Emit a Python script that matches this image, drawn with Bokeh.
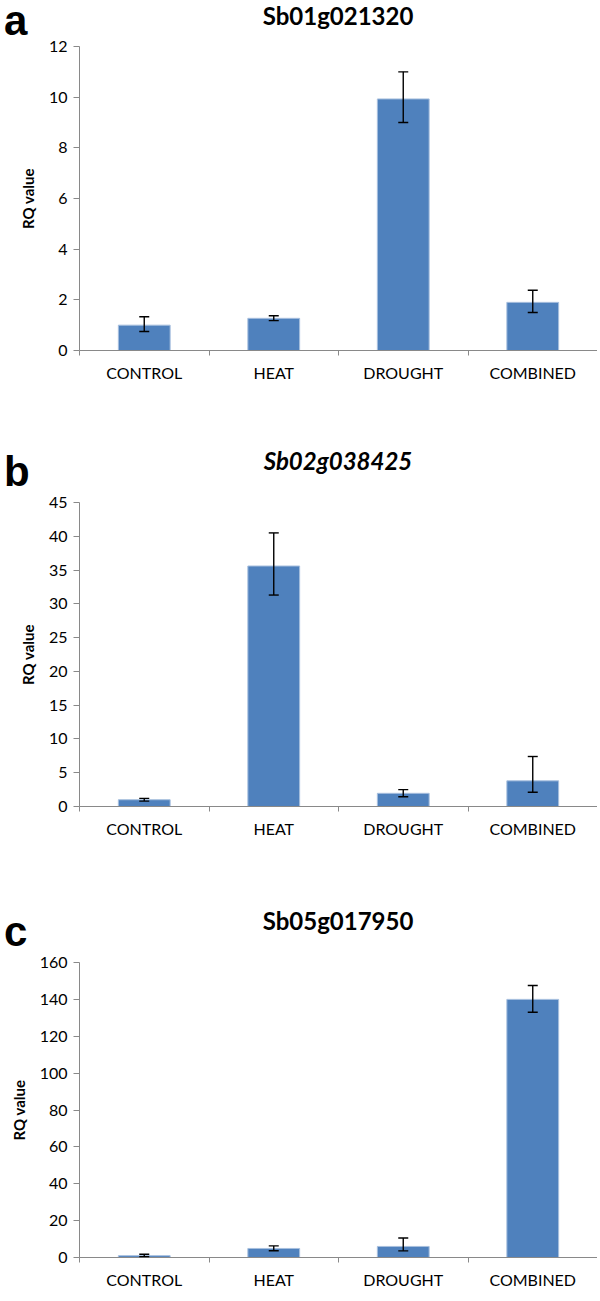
from bokeh.plotting import figure
from bokeh.models import ColumnDataSource, Whisker, TeeHead, FixedTicker, Range1d, Div
from bokeh.layouts import column
from bokeh.embed import file_html
from bokeh.resources import INLINE

categories = ["CONTROL", "HEAT", "DROUGHT", "COMBINED"]

a_title = "Sb01g021320"
a_values = [1.0, 1.27, 9.93, 1.9]
a_lower = [0.75, 1.18, 9.0, 1.5]
a_upper = [1.33, 1.37, 11.0, 2.38]
a_ticks = [0, 2, 4, 6, 8, 10, 12]

b_title = "Sb02g038425"
b_values = [1.0, 35.6, 1.95, 3.8]
b_lower = [0.8, 31.3, 1.45, 2.1]
b_upper = [1.2, 40.5, 2.5, 7.4]
b_ticks = [0, 5, 10, 15, 20, 25, 30, 35, 40, 45]

c_title = "Sb05g017950"
c_values = [1.0, 4.9, 6.0, 140.0]
c_lower = [0.4, 3.7, 3.6, 133.0]
c_upper = [1.8, 6.3, 10.6, 147.5]
c_ticks = [0, 20, 40, 60, 80, 100, 120, 140, 160]

FONT = "Lato"
AXIS_COLOR = "#898989"
BAR_COLOR = "#4F81BD"
W = 597
LEFT = 79


def header(letter, title, italic, h, title_top, letter_top):
    style_t = ("position:absolute;left:%dpx;width:%dpx;top:%dpx;text-align:center;"
               "font-family:Lato;font-weight:bold;font-size:24px;line-height:16px;"
               "color:black;white-space:nowrap;%s") % (LEFT, W - LEFT, title_top,
                                                       "font-style:italic;" if italic else "")
    style_l = ("position:absolute;left:4px;top:%dpx;font-family:'Liberation Sans';"
               "font-weight:bold;font-size:42px;line-height:28px;color:black;") % letter_top
    html = ('<div style="position:relative;width:%dpx;height:%dpx;margin:0;padding:0;">'
            '<span style="%s">%s</span><span style="%s">%s</span></div>') % (
        W, h, style_l, letter, style_t, title)
    return Div(text=html, width=W, height=h, margin=0)


def panel(values, lower, upper, ticks, height, top, bottom):
    n = len(categories)
    xs = [i + 0.5 for i in range(n)]
    src = ColumnDataSource(dict(x=xs, top=values, lower=lower, upper=upper))
    p = figure(width=W, height=height, title=None, output_backend="svg",
               toolbar_location=None, x_range=Range1d(0, n),
               y_range=Range1d(ticks[0], ticks[-1]),
               min_border_left=LEFT, min_border_right=0,
               min_border_top=top, min_border_bottom=bottom, margin=0)
    p.outline_line_color = None
    p.grid.visible = False
    p.background_fill_color = "white"
    p.border_fill_color = "white"

    p.vbar(x="x", top="top", width=0.4, source=src, fill_color=BAR_COLOR,
           line_color="#A7BFDE", line_width=1)
    w = Whisker(base="x", upper="upper", lower="lower", source=src, level="overlay",
                line_color="black", line_width=1.4,
                upper_head=TeeHead(size=10, line_color="black", line_width=1.4),
                lower_head=TeeHead(size=10, line_color="black", line_width=1.4))
    p.add_layout(w)

    xa = p.xaxis[0]
    xa.ticker = FixedTicker(ticks=xs, minor_ticks=list(range(n + 1)))
    xa.major_label_overrides = {x: c for x, c in zip(xs, categories)}
    xa.major_tick_line_color = None
    xa.minor_tick_in = 0
    xa.minor_tick_out = 5
    xa.minor_tick_line_color = AXIS_COLOR
    xa.axis_line_color = AXIS_COLOR
    xa.major_label_text_font = FONT
    xa.major_label_text_font_size = "16px"
    xa.major_label_text_color = "black"
    xa.major_label_standoff = 6

    ya = p.yaxis[0]
    ya.ticker = FixedTicker(ticks=ticks, minor_ticks=[])
    ya.major_tick_in = 0
    ya.major_tick_out = 6
    ya.major_tick_line_color = AXIS_COLOR
    ya.axis_line_color = AXIS_COLOR
    ya.minor_tick_line_color = None
    ya.major_label_text_font = FONT
    ya.major_label_text_font_size = "16px"
    ya.major_label_text_color = "black"
    ya.major_label_standoff = 6
    ya.axis_label = "RQ value"
    ya.axis_label_text_font = FONT
    ya.axis_label_text_font_style = "bold"
    ya.axis_label_text_font_size = "15px"
    ya.axis_label_text_color = "black"
    ya.axis_label_standoff = 9
    return p


ha = header("a", a_title, False, 36, 8, 7)
pa = panel(a_values, a_lower, a_upper, a_ticks, 384, 10, 70)
hb = header("b", b_title, True, 72, 33, 38)
pb = panel(b_values, b_lower, b_upper, b_ticks, 388, 10, 74)
hc = header("c", c_title, False, 72, 33, 38)
pc = panel(c_values, c_lower, c_upper, c_ticks, 339, 10, 27)

layout = column(ha, pa, hb, pb, hc, pc, spacing=0)
open("out.html", "w").write(file_html(layout, INLINE))
